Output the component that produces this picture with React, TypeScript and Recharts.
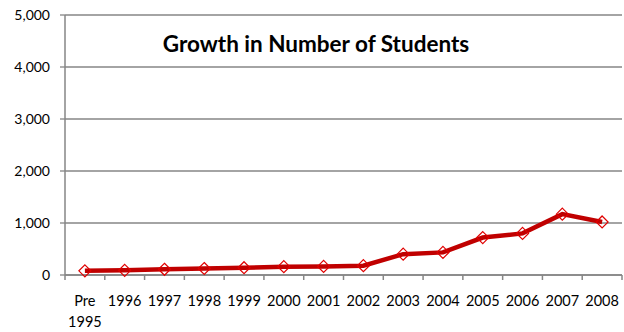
import React from "react";
import { LineChart, Line, XAxis, YAxis, CartesianGrid } from "recharts";

const categories = ["Pre 1995", "1996", "1997", "1998", "1999", "2000", "2001", "2002", "2003", "2004", "2005", "2006", "2007", "2008"];
const students = [80, 90, 110, 125, 140, 160, 165, 180, 400, 435, 720, 800, 1170, 1020];
const yTicks = [0, 1000, 2000, 3000, 4000, 5000];
const title = "Growth in Number of Students";

const data = categories.map((c, i) => ({ category: c, students: students[i] }));

const W = 624;
const H = 332;
const M = { top: 15, right: 2, left: 0, bottom: 0 };
const Y_W = 65;
const GRAY = "#868686";
const FONT = "Lato, 'Open Sans', sans-serif";
const band = (W - M.left - M.right - Y_W) / categories.length;

function XTick(props: any) {
  const { x, y, payload, index } = props;
  const lines = String(payload.value).split(" ");
  return (
    <g>
      <line x1={x - band / 2} x2={x - band / 2} y1={y} y2={y + 5} stroke={GRAY} strokeWidth={1.5} />
      {index === categories.length - 1 && (
        <line x1={x + band / 2} x2={x + band / 2} y1={y} y2={y + 5} stroke={GRAY} strokeWidth={1.5} />
      )}
      <text x={x} y={y + 31} textAnchor="middle" fontFamily={FONT} fontSize={14.5} fill="#000">
        {lines.map((l, i) => (
          <tspan key={i} x={x} dy={i === 0 ? 0 : 21}>
            {l}
          </tspan>
        ))}
      </text>
    </g>
  );
}

function Diamond(props: any) {
  const { cx, cy } = props;
  if (cx == null || cy == null) return null;
  const r = 6;
  return (
    <path
      d={`M${cx},${cy - r} L${cx + r},${cy} L${cx},${cy + r} L${cx - r},${cy} Z`}
      fill="none"
      stroke="#e00000"
      strokeWidth={1.2}
    />
  );
}

export default function App() {
  return (
    <div style={{ position: "absolute", left: 0, top: 0, width: W, height: H, background: "#fff" }}>
      <LineChart width={W} height={H} data={data} margin={M}>
        <CartesianGrid vertical={false} stroke={GRAY} strokeWidth={1.3} />
        <XAxis
          dataKey="category"
          interval={0}
          padding={{ left: band / 2, right: band / 2 }}
          height={H - M.top - M.bottom - 260}
          axisLine={{ stroke: GRAY, strokeWidth: 1.5 }}
          tickLine={false}
          tickSize={0}
          tickMargin={0}
          tick={<XTick />}
        />
        <YAxis
          width={Y_W}
          domain={[0, 5000]}
          ticks={yTicks}
          interval={0}
          axisLine={{ stroke: GRAY, strokeWidth: 1.5 }}
          tickLine={{ stroke: GRAY, strokeWidth: 1.3 }}
          tickSize={5}
          tickMargin={10}
          tickFormatter={(v: number) => v.toLocaleString("en-US")}
          tick={{ fontFamily: FONT, fontSize: 14, fill: "#000" }}
        />
        <Line
          type="linear"
          dataKey="students"
          stroke="#c00000"
          strokeWidth={4.5}
          dot={<Diamond />}
          activeDot={false}
          isAnimationActive={false}
        />
      </LineChart>
      <div
        style={{
          position: "absolute",
          left: 0,
          width: W,
          top: 30,
          textAlign: "center",
          paddingLeft: 8,
          boxSizing: "border-box",
          fontFamily: FONT,
          fontWeight: 700,
          fontSize: 22.5,
          lineHeight: "28px",
          color: "#000",
        }}
      >
        {title}
      </div>
    </div>
  );
}
